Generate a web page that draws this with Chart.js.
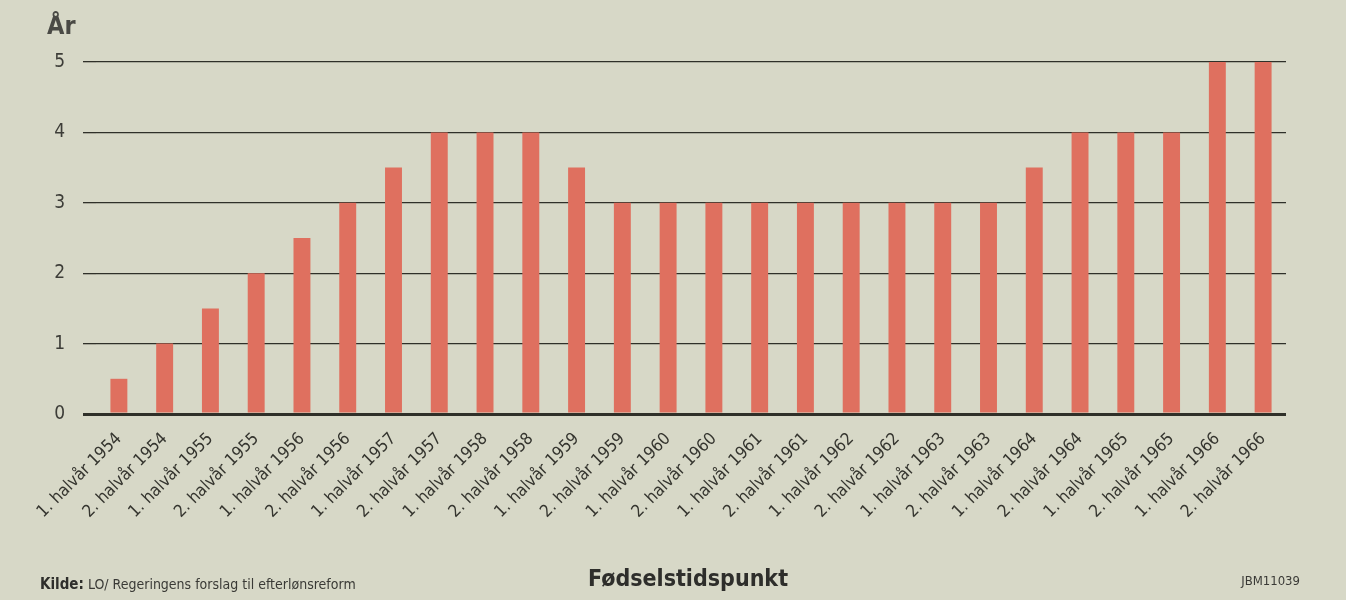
<!DOCTYPE html>
<html>
<head>
<meta charset="utf-8">
<script src="https://cdn.jsdelivr.net/npm/chart.js@4/dist/chart.umd.min.js"></script>
<style>
html,body{margin:0;padding:0;background:#d7d8c7;}
#wrap{position:relative;width:1346px;height:600px;}
</style>
</head>
<body>
<div id="wrap"><canvas id="c" width="1346" height="600"></canvas></div>
<script>
const categories = [
  "1. halvår 1954","2. halvår 1954","1. halvår 1955","2. halvår 1955",
  "1. halvår 1956","2. halvår 1956","1. halvår 1957","2. halvår 1957",
  "1. halvår 1958","2. halvår 1958","1. halvår 1959","2. halvår 1959",
  "1. halvår 1960","2. halvår 1960","1. halvår 1961","2. halvår 1961",
  "1. halvår 1962","2. halvår 1962","1. halvår 1963","2. halvår 1963",
  "1. halvår 1964","2. halvår 1964","1. halvår 1965","2. halvår 1965",
  "1. halvår 1966","2. halvår 1966"
];
const years = [0.5,1,1.5,2,2.5,3,3.5,4,4,4,3.5,3,3,3,3,3,3,3,3,3,3.5,4,4,4,5,5];
const yTicks = [0,1,2,3,4,5];
const yAxisLabel = "År";
const xAxisTitle = "Fødselstidspunkt";
const sourceBold = "Kilde:";
const sourceText = " LO/ Regeringens forslag til efterlønsreform";
const refCode = "JBM11039";

const FONT = '"DejaVu Sans Condensed","Liberation Sans Narrow","Roboto","DejaVu Sans",sans-serif';

const bgPlugin = {
  id: 'bg',
  beforeDraw(chart){
    const ctx = chart.ctx;
    ctx.save();
    ctx.fillStyle = '#d7d8c7';
    ctx.fillRect(0,0,chart.width,chart.height);
    ctx.restore();
  }
};
const textPlugin = {
  id: 'texts',
  afterDraw(chart){
    const ctx = chart.ctx;
    ctx.save();
    ctx.textBaseline = 'middle';
    ctx.fillStyle = '#4a4a45';
    ctx.font = 'bold 25px ' + FONT;
    ctx.textAlign = 'left';
    ctx.fillText(yAxisLabel, 47, 27);
    ctx.fillStyle = '#2e2e2b';
    ctx.font = 'bold 23px ' + FONT;
    ctx.textAlign = 'center';
    ctx.fillText(xAxisTitle, 688, 580);
    ctx.textAlign = 'left';
    ctx.font = 'bold 15px ' + FONT;
    ctx.fillStyle = '#2e2e2b';
    ctx.fillText(sourceBold, 40, 585);
    const w = ctx.measureText(sourceBold).width;
    ctx.font = '14px ' + FONT;
    ctx.fillStyle = '#3a3a36';
    ctx.fillText(sourceText, 40 + w, 585);
    ctx.textAlign = 'right';
    ctx.font = '13px ' + FONT;
    ctx.fillText(refCode, 1300, 582);
    ctx.restore();
  }
};

new Chart(document.getElementById('c'), {
  type: 'bar',
  data: {
    labels: categories,
    datasets: [{
      data: years,
      backgroundColor: '#df705f',
      borderWidth: 0,
      categoryPercentage: 1,
      barPercentage: 0.37
    }]
  },
  options: {
    responsive: false,
    animation: false,
    devicePixelRatio: 1,
    layout: { padding: { left: 0, right: 60, top: 62, bottom: 0 } },
    plugins: { legend: { display: false }, tooltip: { enabled: false } },
    scales: {
      x: {
        grid: { display: false, drawTicks: false },
        border: { display: false },
        ticks: {
          color: '#35352f',
          font: { family: FONT, size: 17 },
          minRotation: 45,
          maxRotation: 45,
          autoSkip: false,
          padding: 15
        },
        afterFit(scale){ scale.height = 186; }
      },
      y: {
        min: 0,
        max: 5,
        afterBuildTicks(scale){ scale.ticks = yTicks.map(v => ({ value: v })); },
        grid: {
          color: '#2f3029',
          lineWidth: ctx => ctx.tick && ctx.tick.value === 0 ? 3 : 1.3,
          drawTicks: true,
          tickLength: 13,
          tickColor: '#2f3029',
          tickWidth: ctx => ctx.tick && ctx.tick.value === 0 ? 3 : 1.3
        },
        border: { display: false },
        ticks: {
          color: '#3d3d38',
          font: { family: FONT, size: 19 },
          padding: 18
        },
        afterFit(scale){ scale.width = 96; }
      }
    }
  },
  plugins: [bgPlugin, textPlugin]
});
</script>
</body>
</html>
